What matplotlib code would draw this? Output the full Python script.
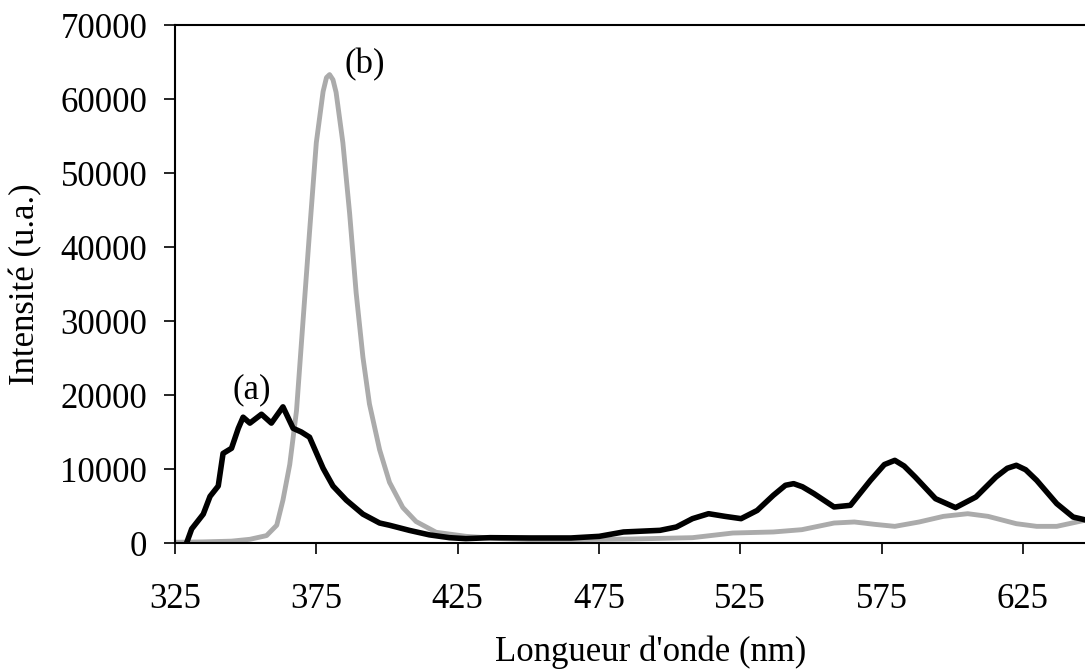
import matplotlib.pyplot as plt

# spectrum (a) - black curve
wl_a = [329.1, 330.9, 335.0, 337.4, 340.3, 342.0, 345.0, 347.4, 349.1, 351.5,
        355.6, 359.1, 363.2, 366.8, 369.7, 372.6, 377.4, 380.9, 385.6, 391.5,
        397.4, 400.9, 408.0, 415.0, 422.1, 427.9, 436.5, 450.8, 465.1, 475.1,
        483.7, 496.6, 502.4, 508.1, 513.8, 519.6, 525.3, 531.0, 536.7, 541.0,
        543.9, 547.0, 551.1, 558.2, 564.0, 571.1, 576.0, 579.7, 583.0, 586.9,
        594.1, 601.2, 608.4, 615.5, 619.5, 622.7, 626.0, 629.9, 637.0, 642.8,
        646.8]
int_a = [0, 1900, 3900, 6300, 7700, 12100, 12800, 15500, 17000, 16200,
         17400, 16200, 18400, 15500, 15000, 14300, 10100, 7700, 5800, 3900,
         2700, 2400, 1700, 1100, 720, 590, 720, 680, 680, 900,
         1490, 1710, 2160, 3290, 3960, 3600, 3290, 4400, 6440, 7800,
         8020, 7600, 6670, 4870, 5090, 8470, 10600, 11170, 10400, 8920,
         5990, 4780, 6220, 8920, 10100, 10500, 9900, 8470, 5320, 3510,
         3150]

# spectrum (b) - grey curve
wl_b = [325.0, 335.0, 345.0, 351.5, 357.4, 361.0, 363.2, 365.6, 368.0, 370.3,
        372.6, 375.0, 377.4, 378.6, 379.7, 380.9, 382.0, 384.4, 386.8, 389.1,
        391.5, 393.8, 397.4, 400.9, 405.6, 410.3, 417.4, 428.0, 439.7, 450.8,
        465.1, 486.6, 508.1, 522.4, 536.7, 546.8, 558.2, 565.4, 572.6, 579.7,
        588.3, 596.9, 605.5, 612.7, 622.7, 629.9, 637.0, 646.8]
int_b = [100, 150, 250, 500, 1000, 2400, 5800, 10600, 17900, 30000,
         42000, 54100, 61000, 62900, 63300, 62600, 60900, 54100, 44500, 33800,
         25100, 18800, 12600, 8200, 4800, 2900, 1450, 900, 600, 450,
         450, 540, 720, 1350, 1490, 1800, 2700, 2840, 2520, 2250,
         2840, 3600, 3960, 3600, 2610, 2250, 2250, 3060]

plt.rcParams['font.family'] = ['Liberation Serif', 'DejaVu Serif']

fig = plt.figure(figsize=(10.85, 6.69), dpi=100)
ax = fig.add_axes([175 / 1085, 126 / 669, 910 / 1085, 518 / 669])

ax.plot(wl_b, int_b, color='#ababab', linewidth=3.5, solid_joinstyle='round')
ax.plot(wl_a, int_a, color='black', linewidth=4, solid_joinstyle='round')

ax.text(352, 20700, '(a)', fontsize=25, ha='center', va='center')
ax.text(392, 64600, '(b)', fontsize=25, ha='center', va='center')

ax.set_xlim(325, 647)
ax.set_ylim(0, 70000)
ax.set_xticks(range(325, 626, 50))
ax.set_yticks(range(0, 70001, 10000))

ax.spines['right'].set_visible(False)
for s in ['left', 'top', 'bottom']:
    ax.spines[s].set_linewidth(1.5)
ax.tick_params(direction='out', length=8, width=1.2, labelsize=25)
ax.tick_params(axis='y', pad=12)
ax.tick_params(axis='x', pad=21)

ax.set_xlabel("Longueur d'onde (nm)", fontsize=25)
ax.set_ylabel('Intensité (u.a.)', fontsize=25)
ax.xaxis.set_label_coords(0.523, -0.178)
ax.yaxis.set_label_coords(-0.146, 0.5)

fig.savefig('out.png', dpi=100)
